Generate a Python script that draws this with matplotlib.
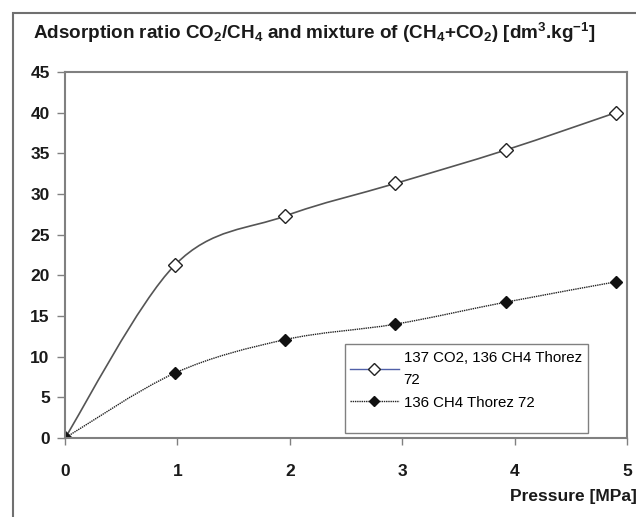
import matplotlib
matplotlib.use("Agg")
import matplotlib.pyplot as plt
import numpy as np
from matplotlib.path import Path
from matplotlib.patches import PathPatch, Rectangle
from matplotlib.lines import Line2D

pressure = [0.0, 0.98, 1.96, 2.94, 3.92, 4.90]
mix_co2_ch4 = [0.0, 21.3, 27.3, 31.3, 35.4, 40.0]
ch4_only = [0.0, 8.0, 12.1, 14.0, 16.7, 19.2]

label_mix = "137 CO2, 136 CH4 Thorez\n72"
label_ch4 = "136 CH4 Thorez 72"
x_ticks = [0, 1, 2, 3, 4, 5]
y_ticks = list(range(0, 46, 5))

plt.rcParams["font.family"] = ["Liberation Sans", "DejaVu Sans"]
plt.rcParams["mathtext.fontset"] = "custom"
plt.rcParams["mathtext.rm"] = "Liberation Sans:bold"
plt.rcParams["mathtext.it"] = "Liberation Sans:bold"
plt.rcParams["mathtext.bf"] = "Liberation Sans:bold"
plt.rcParams["mathtext.default"] = "rm"

GRAY = "#808080"


def smooth_path(xs, ys):
    # Excel-style smoothed line: cubic Bezier through the points
    pts = np.column_stack([xs, ys])
    n = len(pts)
    verts = [pts[0]]
    codes = [Path.MOVETO]
    for i in range(n - 1):
        p0 = pts[max(i - 1, 0)]
        p1 = pts[i]
        p2 = pts[i + 1]
        p3 = pts[min(i + 2, n - 1)]
        c1 = p1 + (p2 - p0) / 6.0
        c2 = p2 - (p3 - p1) / 6.0
        verts += [c1, c2, p2]
        codes += [Path.CURVE4] * 3
    return Path(verts, codes)


fig = plt.figure(figsize=(6.36, 5.17), dpi=100)
ax = fig.add_axes([65 / 636, 79 / 517, 562 / 636, 366 / 517])

# outer chart frame
fig.patches.append(Rectangle((13 / 636, -0.05), 1.0, 1.05 - 13 / 517,
                             transform=fig.transFigure, fill=False,
                             edgecolor="#707070", linewidth=1.5))

ax.add_patch(PathPatch(smooth_path(pressure, mix_co2_ch4), fill=False,
                       edgecolor="#555555", linewidth=1.2))
ax.plot(pressure, mix_co2_ch4, linestyle="none", marker="D", markersize=7,
        markerfacecolor="white", markeredgecolor="#222222", markeredgewidth=1.0)

ax.add_patch(PathPatch(smooth_path(pressure, ch4_only), fill=False,
                       edgecolor="#222222", linewidth=1.0, linestyle=(0, (1, 0.6))))
ax.plot(pressure, ch4_only, linestyle="none", marker="D", markersize=6.5,
        markerfacecolor="#111111", markeredgecolor="#111111")

ax.set_xlim(0, 5)
ax.set_ylim(0, 45)
ax.set_xticks(x_ticks)
ax.set_yticks(y_ticks)
ax.tick_params(axis="x", direction="out", length=5, width=1, color=GRAY, pad=14,
               labelsize=12.5)
ax.tick_params(axis="y", direction="out", length=6, width=1, color=GRAY, pad=5,
               labelsize=12.5)
for lab in ax.get_xticklabels() + ax.get_yticklabels():
    lab.set_fontweight("bold")
    lab.set_color("#1a1a1a")
for sp in ax.spines.values():
    sp.set_color(GRAY)
    sp.set_linewidth(1.5)

# legend: Excel-style box with extra room at the bottom
fig.patches.append(Rectangle((345 / 636, 1 - 433 / 517), 243 / 636, 89 / 517,
                             transform=fig.transFigure, facecolor="white",
                             edgecolor=GRAY, linewidth=1.0, zorder=3))
handles = [
    Line2D([], [], color="#5060a8", linewidth=1.0, marker="D", markersize=6,
           markerfacecolor="white", markeredgecolor="#222222"),
    Line2D([], [], color="#222222", linewidth=1.0, linestyle=(0, (1, 0.6)),
           marker="D", markersize=5.5, markerfacecolor="#111111",
           markeredgecolor="#111111"),
]
leg = fig.legend(handles, [label_mix, label_ch4], loc="upper left",
                 bbox_to_anchor=(345 / 636, 1 - 346 / 517), fontsize=10.8,
                 frameon=False, borderpad=0.3, handlelength=3.3,
                 handletextpad=0.3, labelspacing=0.55, borderaxespad=0)
leg.set_zorder(4)
for t in leg.get_texts():
    t.set_linespacing(1.8)

fig.text(33 / 636, 1 - 33 / 517,
         "Adsorption ratio CO$_2$/CH$_4$ and mixture of (CH$_4$+CO$_2$) [dm$^3$.kg$^{-1}$]",
         fontsize=13.6, fontweight="bold", ha="left", va="center", color="#1a1a1a")
fig.text(1.002, 1 - 497 / 517, "Pressure [MPa]", fontsize=12.5, fontweight="bold",
         ha="right", va="center", color="#1a1a1a")

fig.savefig("out.png", dpi=100)
